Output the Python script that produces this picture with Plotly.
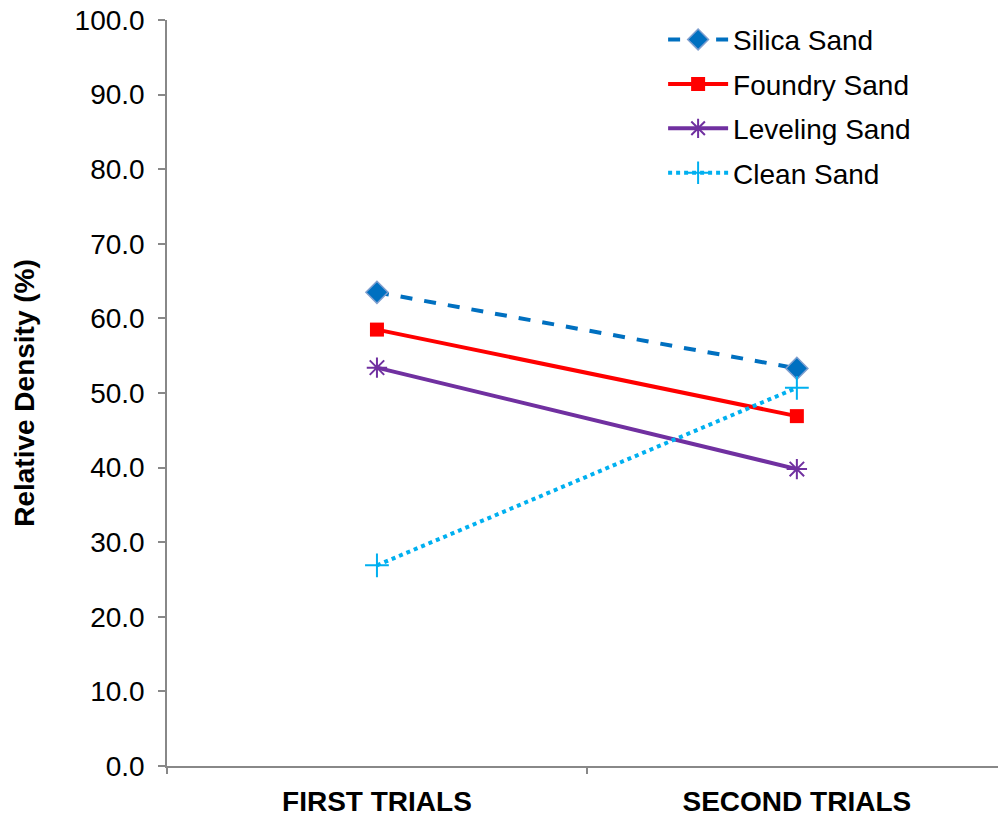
import plotly.graph_objects as go

categories = ["FIRST TRIALS", "SECOND TRIALS"]
silica = [63.5, 53.3]
foundry = [58.5, 46.9]
leveling = [53.4, 39.8]
clean = [26.9, 50.7]
yticks = [0, 10, 20, 30, 40, 50, 60, 70, 80, 90, 100]

FONT = "Liberation Sans, Arial, sans-serif"
FS = 28
xpos = [0, 1]
fig = go.Figure()
fig.add_trace(go.Scatter(x=xpos, y=silica, name="Silica Sand", mode="lines+markers", legendgroup="a",
                         line=dict(color="#0070C0", width=4, dash="dash"),
                         marker=dict(symbol="diamond", size=17, color="#0070C0",
                                     line=dict(color="#7F9FCF", width=1.5))))
fig.add_trace(go.Scatter(x=xpos, y=foundry, name="Foundry Sand", mode="lines+markers", legendgroup="b",
                         line=dict(color="#FF0000", width=4),
                         marker=dict(symbol="square", size=14, color="#FF0000")))
fig.add_trace(go.Scatter(x=xpos, y=leveling, name="Leveling Sand", mode="lines+markers", legendgroup="c",
                         line=dict(color="#7030A0", width=4),
                         marker=dict(symbol="asterisk-open", size=17, color="#7030A0",
                                     line=dict(color="#7030A0", width=2))))
fig.add_trace(go.Scatter(x=xpos, y=clean, name="Clean Sand", mode="lines+markers", legendgroup="d",
                         line=dict(color="#00B0F0", width=4, dash="dot"),
                         marker=dict(symbol="cross-thin-open", size=17, color="#00B0F0",
                                     line=dict(color="#00B0F0", width=2))))
# invisible trace on xaxis2 to enable boundary ticks
fig.add_trace(go.Scatter(x=[-0.5], y=[0], xaxis="x2", mode="markers",
                         marker=dict(opacity=0), showlegend=False, hoverinfo="skip"))

fig.update_layout(
    width=998, height=816,
    margin=dict(l=167, r=0, t=20, b=50),
    plot_bgcolor="white", paper_bgcolor="white",
    font=dict(family=FONT, size=FS, color="black"),
    showlegend=True,
    legend=dict(x=0.597, y=1.007, xanchor="left", yanchor="top",
                font=dict(family=FONT, size=FS), tracegroupgap=5, itemwidth=60,
                bgcolor="rgba(0,0,0,0)"),
    xaxis=dict(range=[-0.5, 1.479], tickvals=xpos, ticktext=categories, automargin=False,
               showgrid=False, zeroline=False, showline=True, linecolor="#888888",
               linewidth=1.5, ticks="", ticklabelstandoff=10,
               tickfont=dict(family=FONT, size=FS, weight="bold")),
    xaxis2=dict(range=[-0.5, 1.479], overlaying="x", side="bottom", tickvals=[-0.5, 0.5],
                showticklabels=False, ticks="outside", ticklen=7, tickcolor="#888888",
                tickwidth=1.5, showgrid=False, zeroline=False, showline=False, automargin=False),
    yaxis=dict(range=[0, 100], tickvals=yticks, tickformat=".1f", automargin=False,
               showgrid=False, zeroline=False, showline=True, linecolor="#888888",
               linewidth=1.5, ticks="outside", ticklen=7, tickcolor="#888888", tickwidth=1.5,
               ticklabelstandoff=8, tickfont=dict(family=FONT, size=FS),
               title=dict(text="<b>Relative Density (%)</b>", standoff=32,
                          font=dict(family=FONT, size=FS))),
)
fig.write_html("out.html")
